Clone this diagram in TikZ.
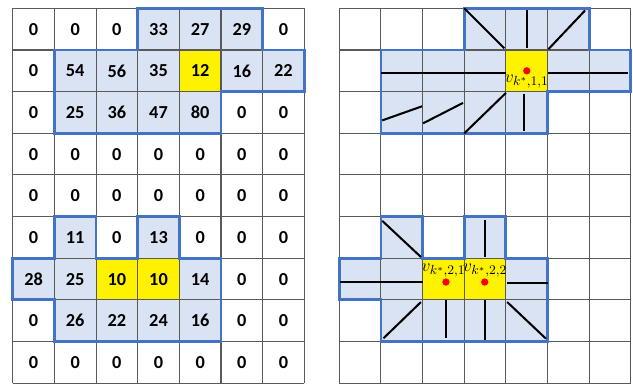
\documentclass[tikz,border=0pt]{standalone}
\usepackage{fontspec}
\setmainfont{Carlito}

\definecolor{regfill}{HTML}{DAE3F3}
\definecolor{regline}{HTML}{4472C4}
\definecolor{cellline}{HTML}{595959}

\tikzset{
  cell/.style={minimum size=1cm, inner sep=0pt,
    font=\fontsize{12.5}{14}\selectfont\bfseries},
  gridline/.style={draw=cellline, line width=0.7pt},
  region/.style={draw=regline, line width=2pt, line join=miter},
  ray/.style={black, line width=1.4pt},
  dot/.style={circle, fill=red, inner sep=0pt, minimum size=5pt},
  vlabel/.style={inner sep=0pt, font=\fontsize{12.5}{14}\selectfont},
}

% outlines of the two regions, in cell units (rows counted downwards)
\newcommand{\regionA}{(3,0) -- (6,0) -- (6,1) -- (7,1) -- (7,2) -- (5,2) -- (5,3) -- (1,3) -- (1,1) -- (3,1) -- cycle}
\newcommand{\regionB}{(1,5) -- (2,5) -- (2,6) -- (3,6) -- (3,5) -- (4,5) -- (4,6) -- (5,6) -- (5,8) -- (1,8) -- (1,7) -- (0,7) -- (0,6) -- (1,6) -- cycle}

\begin{document}
\begin{tikzpicture}[x=1cm, y=-1cm]
  \useasboundingbox (-0.305,-0.2) rectangle (14.89,9.03);

  % Левая сетка: значения
  \fill[regfill] \regionA;
  \fill[regfill] \regionB;
  \fill[yellow] (4,1) rectangle (5,2);
  \fill[yellow] (2,6) rectangle (4,7);
  \draw[gridline] (0,0) grid (7,9);
  \foreach \vals [count=\r from 0] in {{0,0,0,33,27,29,0},{0,54,56,35,12,16,22},
      {0,25,36,47,80,0,0},{0,0,0,0,0,0,0},{0,0,0,0,0,0,0},{0,11,0,13,0,0,0},
      {28,25,10,10,14,0,0},{0,26,22,24,16,0,0},{0,0,0,0,0,0,0}}
    \foreach \v [count=\c from 0] in \vals
      \node[cell] (L-\r-\c) at (\c+0.5,\r+0.5) {\v};
  \draw[region] \regionA;
  \draw[region] \regionB;

  % Правая сетка: лучи
  \begin{scope}[shift={(7.84,0)}]
    \fill[regfill] \regionA;
    \fill[regfill] \regionB;
    \fill[yellow] (4,1) rectangle (5,2);
    \fill[yellow] (2,6) rectangle (4,7);
    \draw[gridline] (0,0) grid (7,9);
    \draw[region] \regionA;
    \draw[region] \regionB;

    % верхняя область
    \draw[ray] (3,0) -- (3.96,0.96);
    \draw[ray] (4.5,0.05) -- (4.5,0.96);
    \draw[ray] (5.02,0.98) -- (5.9,0.05);
    \draw[ray] (1,1.55) -- (4,1.55);
    \draw[ray] (5,1.55) -- (6.92,1.55);
    \draw[ray] (4,2.03) -- (3,3);
    \draw[ray] (4.44,2.05) -- (4.44,2.94);
    \draw[ray] (1.03,2.69) -- (1.99,2.35);
    \draw[ray] (2.01,2.76) -- (2.97,2.27);
    \node[dot] (cA) at (4.5,1.5) {};
    \node[vlabel] (vA) at (4.5,1.76) {$v_{k^*,1,1}$};

    % нижняя область
    \draw[ray] (1.03,5.1) -- (1.96,5.97);
    \draw[ray] (3.49,5.08) -- (3.49,5.97);
    \draw[ray] (0.02,6.57) -- (2,6.57);
    \draw[ray] (4.03,6.6) -- (5,6.6);
    \draw[ray] (1.96,7.05) -- (1.06,7.92);
    \draw[ray] (2.55,7.01) -- (2.55,7.92);
    \draw[ray] (3.49,7.01) -- (3.49,7.95);
    \draw[ray] (4.03,7.05) -- (4.96,7.93);
    \node[dot] (cB1) at (2.56,6.57) {};
    \node[dot] (cB2) at (3.49,6.57) {};
    \node[vlabel] (vB1) at (2.5,6.3) {$v_{k^*,2,1}$};
    \node[vlabel] (vB2) at (3.5,6.3) {$v_{k^*,2,2}$};
  \end{scope}
\end{tikzpicture}
\end{document}
